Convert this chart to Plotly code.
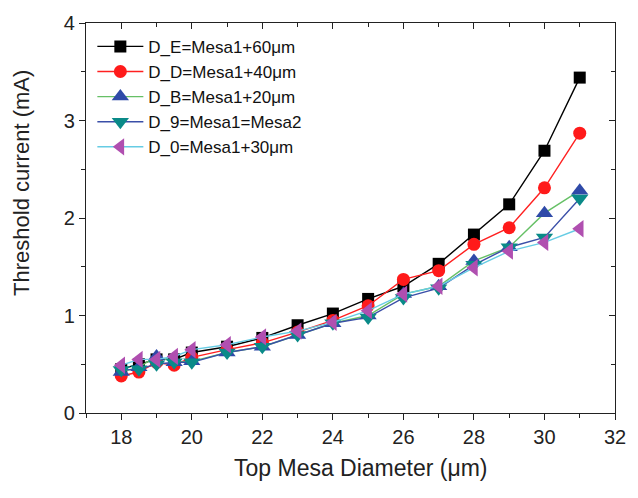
import plotly.graph_objects as go

# Top mesa diameter (um)
diameter = [18, 18.5, 19, 19.5, 20, 21, 22, 23, 24, 25, 26, 27, 28, 29, 30, 31]

# Threshold current (mA) for each device group
ith_DE = [0.45, 0.50, 0.55, 0.55, 0.62, 0.68, 0.77, 0.90, 1.02, 1.17, 1.30, 1.53, 1.83, 2.14, 2.69, 3.44]
ith_DD = [0.38, 0.42, 0.52, 0.49, 0.57, 0.65, 0.72, 0.83, 0.95, 1.10, 1.37, 1.46, 1.73, 1.90, 2.31, 2.87]
ith_DB = [0.42, 0.47, 0.58, 0.52, 0.53, 0.62, 0.68, 0.80, 0.92, 1.00, 1.22, 1.30, 1.56, 1.70, 2.05, 2.28]
ith_D9 = [0.44, 0.45, 0.50, 0.52, 0.52, 0.62, 0.68, 0.80, 0.92, 0.98, 1.18, 1.28, 1.52, 1.70, 1.80, 2.20]
ith_D0 = [0.49, 0.55, 0.55, 0.58, 0.65, 0.70, 0.78, 0.84, 0.93, 1.05, 1.22, 1.30, 1.49, 1.66, 1.75, 1.89]

names = ["D_E=Mesa1+60μm", "D_D=Mesa1+40μm", "D_B=Mesa1+20μm",
         "D_9=Mesa1=Mesa2", "D_0=Mesa1+30μm"]
series = [ith_DE, ith_DD, ith_DB, ith_D9, ith_D0]
line_colors = ["#000000", "#FF2020", "#66C066", "#3A4FA8", "#66CCE4"]
marker_colors = ["#000000", "#FF1A1A", "#2F4AA8", "#0A8A88", "#B04FB0"]
symbols = ["square", "circle", "triangle-up", "triangle-down", "triangle-left"]
sizes = [12, 13, 15, 15, 15]

x_title = "Top Mesa Diameter (μm)"
y_title = "Threshold current (mA)"

fig = go.Figure()
for name, ys, lc, mc, sym, sz in zip(names, series, line_colors, marker_colors, symbols, sizes):
    fig.add_trace(go.Scatter(
        x=diameter, y=ys, name=name, mode="lines+markers",
        line=dict(color=lc, width=1.4),
        marker=dict(symbol=sym, size=sz, color=mc, line=dict(width=0)),
    ))

# Invisible trace that carries the inward-ticked top/right frame axes
fig.add_trace(go.Scatter(x=[diameter[0]], y=[ith_DE[0]], xaxis="x2", yaxis="y2",
                         mode="markers", marker=dict(opacity=0), showlegend=False,
                         hoverinfo="skip"))

family = "Liberation Sans, Arial, sans-serif"
tick_font = dict(family=family, size=20, color="#222222")
label_font = dict(family=family, size=23, color="#222222")

fig.update_layout(
    width=638, height=498,
    margin=dict(l=86, r=21, t=20, b=85),
    paper_bgcolor="white", plot_bgcolor="white",
    showlegend=True,
    legend=dict(x=0.012, y=0.985, xanchor="left", yanchor="top",
                bgcolor="rgba(0,0,0,0)", tracegroupgap=0, itemwidth=46,
                font=dict(family=family, size=17, color="#111111")),
    xaxis=dict(range=[17, 32], tick0=18, dtick=2, ticks="outside", ticklen=6, tickwidth=1.3,
               tickcolor="#222", showline=True, linecolor="#222", linewidth=1.3,
               showgrid=False, zeroline=False, tickfont=tick_font,
               minor=dict(ticks="outside", ticklen=3.5, dtick=1, tick0=17, tickcolor="#222")),
    yaxis=dict(range=[0, 4], dtick=1, ticks="outside", ticklen=6, tickwidth=1.3,
               tickcolor="#222", showline=True, linecolor="#222", linewidth=1.3,
               showgrid=False, zeroline=False, tickfont=tick_font,
               minor=dict(ticks="outside", ticklen=3.5, dtick=0.5, tickcolor="#222")),
    xaxis2=dict(overlaying="x", side="top", range=[17, 32], tick0=18, dtick=2,
                ticks="inside", ticklen=6, tickwidth=1.3, tickcolor="#222",
                showline=True, linecolor="#222", linewidth=1.3, showticklabels=False,
                showgrid=False, zeroline=False,
                minor=dict(ticks="inside", ticklen=3.5, dtick=1, tick0=17, tickcolor="#222")),
    yaxis2=dict(overlaying="y", side="right", range=[0, 4], dtick=1,
                ticks="inside", ticklen=6, tickwidth=1.3, tickcolor="#222",
                showline=True, linecolor="#222", linewidth=1.3, showticklabels=False,
                showgrid=False, zeroline=False,
                minor=dict(ticks="inside", ticklen=3.5, dtick=0.5, tickcolor="#222")),
    annotations=[
        dict(text=x_title, xref="paper", yref="paper", x=0.52, y=-0.142,
             xanchor="center", yanchor="middle", showarrow=False, font=label_font),
        dict(text=y_title, xref="paper", yref="paper", x=-0.121, y=0.59,
             xanchor="center", yanchor="middle", textangle=-90, showarrow=False,
             font=dict(family=family, size=22, color="#222222")),
    ],
)

fig.write_html("out.html")
